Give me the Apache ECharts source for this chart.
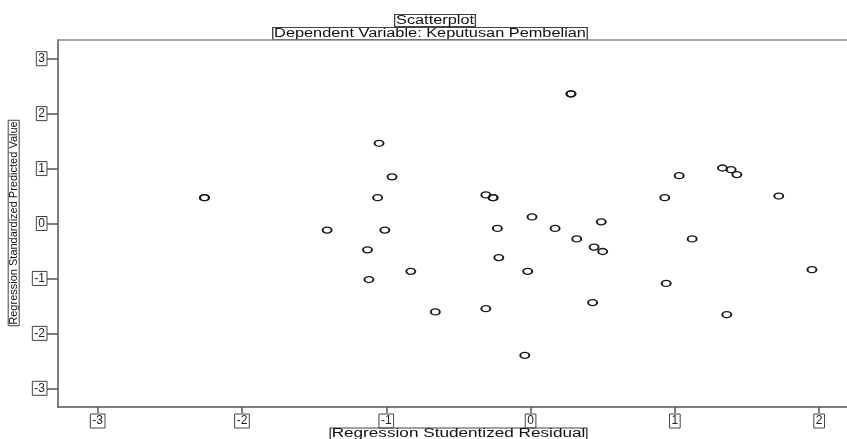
<!DOCTYPE html>
<html>
<head>
<meta charset="utf-8">
<script src="https://cdn.jsdelivr.net/npm/echarts@6/dist/echarts.min.js"></script>
<style>
html,body{margin:0;padding:0;background:#fff;}
#chart{width:847px;height:439px;}
</style>
</head>
<body>
<div id="chart"></div>
<script>
// Regression Studentized Residual (x) and Regression Standardized Predicted Value (y)
const studentizedResidual = [
  -2.26, -2.26, -1.05, -0.96, -1.06, -1.41, -1.01, -1.13, -1.12,
  0.28, 0.28, -0.31, -0.26, -0.26, 0.01, -0.23, 0.17, 0.49, 0.32,
  0.44, 0.50, -0.22, -0.83, -0.02, -0.66, -0.31, 0.43, -0.04,
  1.03, 1.33, 1.39, 1.43, 0.93, 1.72, 1.12, 1.95, 1.36, 0.94
];
const standardizedPredicted = [
  0.47, 0.47, 1.46, 0.85, 0.47, -0.12, -0.12, -0.48, -1.02,
  2.36, 2.36, 0.52, 0.47, 0.47, 0.12, -0.09, -0.09, 0.03, -0.28,
  -0.43, -0.51, -0.62, -0.87, -0.87, -1.61, -1.55, -1.44, -2.40,
  0.87, 1.01, 0.98, 0.89, 0.47, 0.50, -0.28, -0.84, -1.66, -1.09
];
const xTickValues = [-3, -2, -1, 0, 1, 2];
const yTickValues = [-3, -2, -1, 0, 1, 2, 3];
const titleText = 'Scatterplot';
const subtitleText = 'Dependent Variable: Keputusan Pembelian';
const xAxisName = 'Regression Studentized Residual';
const yAxisName = 'Regression Standardized Predicted Value';

const points = studentizedResidual.map((x, i) => [x, standardizedPredicted[i]]);
const FONT = 'Liberation Sans, Arial, sans-serif';
const X_MIN = -3.275, X_MAX = 2.193;

function boxedText(text, x, y, opts) {
  return Object.assign({
    type: 'text',
    x: x, y: y,
    silent: true,
    style: {
      text: text,
      fontFamily: FONT,
      fontSize: 12,
      lineHeight: 12,
      fill: '#111',
      align: 'center',
      verticalAlign: 'top',
      borderColor: '#444',
      borderWidth: 1,
      padding: [0, 1]
    }
  }, opts || {});
}

const chart = echarts.init(document.getElementById('chart'), null, {renderer: 'canvas'});
chart.setOption({
  animation: false,
  backgroundColor: '#fff',
  grid: {
    left: 58, top: 40, right: 0, height: 367, show: false
  },
  xAxis: [{
    type: 'value',
    min: X_MIN, max: X_MAX,
    splitLine: {show: false},
    axisLine: {show: true, onZero: false, lineStyle: {color: '#555', width: 1.5}},
    axisTick: {show: true, length: 6, customValues: xTickValues, lineStyle: {color: '#555', width: 1.5}},
    axisLabel: {
      customValues: xTickValues,
      margin: 7,
      fontFamily: FONT, fontSize: 12, lineHeight: 12, color: '#222',
      borderColor: '#444', borderWidth: 1, padding: [1, 2]
    }
  }, {
    type: 'value',
    position: 'top',
    min: X_MIN, max: X_MAX,
    splitLine: {show: false},
    axisLine: {show: true, onZero: false, lineStyle: {color: '#888', width: 1.5}},
    axisTick: {show: false},
    axisLabel: {show: false}
  }],
  yAxis: {
    type: 'value',
    min: -3.34, max: 3.34,
    splitLine: {show: false},
    axisLine: {show: true, onZero: false, lineStyle: {color: '#555', width: 1.5}},
    axisTick: {show: true, length: 11, customValues: yTickValues, lineStyle: {color: '#555', width: 1.5}},
    axisLabel: {
      customValues: yTickValues,
      margin: 11,
      fontFamily: FONT, fontSize: 12, lineHeight: 12, color: '#222',
      borderColor: '#444', borderWidth: 1, padding: [1, 2]
    }
  },
  series: [{
    type: 'scatter',
    xAxisIndex: 0,
    data: points,
    symbol: 'circle',
    symbolSize: [9, 6],
    itemStyle: {color: 'rgba(0,0,0,0)', borderColor: '#1a1a1a', borderWidth: 1.6, opacity: 1},
    emphasis: {disabled: true},
    clip: false
  }],
  graphic: [
    boxedText(titleText, 435, 14.5, {scaleX: 1.36}),
    boxedText(subtitleText, 430, 27.5, {scaleX: 1.36}),
    boxedText(xAxisName, 458.5, 428, {scaleX: 1.43}),
    {
      type: 'text', x: 13.7, y: 223, rotation: Math.PI / 2, silent: true,
      style: {
        text: yAxisName, fontFamily: FONT, fontSize: 11, lineHeight: 11, fill: '#111',
        align: 'center', verticalAlign: 'middle',
        borderColor: '#444', borderWidth: 1, padding: [0, 1]
      }
    }
  ]
});
</script>
</body>
</html>
